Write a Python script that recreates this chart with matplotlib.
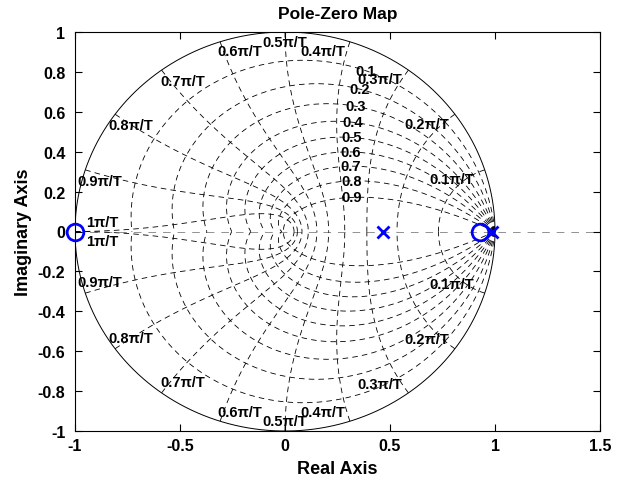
import numpy as np
import matplotlib
matplotlib.use('Agg')
import matplotlib.pyplot as plt

# pole / zero locations (all on the real axis)
zeros_re = [-1.0, 0.93]
poles_re = [0.465, 0.985]

# zgrid levels
zeta_levels = [0.1, 0.2, 0.3, 0.4, 0.5, 0.6, 0.7, 0.8, 0.9]
wn_levels = [0.1, 0.2, 0.3, 0.4, 0.5, 0.6, 0.7, 0.8, 0.9, 1.0]  # times pi/T
zeta_labels = ['0.1', '0.2', '0.3', '0.4', '0.5', '0.6', '0.7', '0.8', '0.9']
wn_labels = ['0.1π/T', '0.2π/T', '0.3π/T', '0.4π/T', '0.5π/T',
             '0.6π/T', '0.7π/T', '0.8π/T', '0.9π/T', '1π/T']

x_ticks = [-1, -0.5, 0, 0.5, 1, 1.5]
y_ticks = [-1, -0.8, -0.6, -0.4, -0.2, 0, 0.2, 0.4, 0.6, 0.8, 1]

# where the frequency labels sit (polar, angle in degrees)
wn_label_ang = [18.3, 38.6, 59.4, 78.7, 90, 103.3, 122.8, 144, 164, 180]
wn_label_r = [0.836, 0.864, 0.888, 0.923, 0.952, 0.93, 0.90, 0.905, 0.916, 0.87]

plt.rcParams['font.family'] = ['Liberation Sans', 'DejaVu Sans']
plt.rcParams['font.weight'] = 'bold'
plt.rcParams['lines.scale_dashes'] = False

fig = plt.figure(figsize=(6.23, 4.85), dpi=100)
ax = fig.add_axes([75 / 623, 53 / 485, 525 / 623, 399 / 485])

grid_kw = dict(color='black', lw=0.6, linestyle=(0, (4.0, 3.0)), zorder=1)
lab_fs = 10.5

# real axis line from zplane
ax.axhline(0, color='#808080', lw=0.6, linestyle=(0, (5.5, 5.0)), zorder=1)

# unit circle
th = np.linspace(0, 2 * np.pi, 400)
ax.plot(np.cos(th), np.sin(th), color='black', lw=0.7, zorder=2)

# constant damping curves
theta = np.linspace(0, np.pi, 300)
for zeta, lab in zip(zeta_levels, zeta_labels):
    m = zeta / np.sqrt(1 - zeta ** 2)
    zz = np.exp(-m * theta) * np.exp(1j * theta)
    ax.plot(zz.real, zz.imag, **grid_kw)
    ax.plot(zz.real, -zz.imag, **grid_kw)
    w = 1.13
    p = np.exp(-w * zeta) * np.exp(1j * w * np.sqrt(1 - zeta ** 2))
    ax.text(p.real, p.imag, lab, ha='center', va='center', fontsize=lab_fs, zorder=4)

# constant natural frequency curves
zeta_s = np.linspace(0, 1, 300)
for wn, lab, a, r in zip(wn_levels, wn_labels, wn_label_ang, wn_label_r):
    w = wn * np.pi
    zz = np.exp(-w * zeta_s) * np.exp(1j * w * np.sqrt(1 - zeta_s ** 2))
    ax.plot(zz.real, zz.imag, **grid_kw)
    ax.plot(zz.real, -zz.imag, **grid_kw)
    px, py = r * np.cos(np.radians(a)), r * np.sin(np.radians(a))
    if wn == 1.0:
        py = 0.05
    ax.text(px, py, lab, ha='center', va='center', fontsize=lab_fs, zorder=4)
    ax.text(px, -py, lab, ha='center', va='center', fontsize=lab_fs, zorder=4)

# zeros and poles
ax.plot(zeros_re, np.zeros(len(zeros_re)), 'o', mfc='none', mec='blue',
        ms=12, mew=2, clip_on=False, zorder=6)
ax.plot(poles_re, np.zeros(len(poles_re)), 'x', color='blue',
        ms=8, mew=2, clip_on=False, zorder=6)

ax.set_xlim(-1, 1.5)
ax.set_ylim(-1, 1)
ax.set_xticks(x_ticks)
ax.set_yticks(y_ticks)
ax.set_xticklabels(['%g' % v for v in x_ticks])
ax.set_yticklabels(['%g' % v for v in y_ticks])
ax.tick_params(direction='in', length=5, top=True, right=True, labelsize=11.5)
ax.tick_params(axis='x', pad=5)
ax.tick_params(axis='y', pad=7)
for s in ax.spines.values():
    s.set_linewidth(0.8)

ax.set_title('Pole-Zero Map', fontsize=12.5, fontweight='bold', pad=10)
ax.set_xlabel('Real Axis', fontsize=13, fontweight='bold', labelpad=5)
ax.set_ylabel('Imaginary Axis', fontsize=13, fontweight='bold', labelpad=4)

fig.savefig('out.png', dpi=100)
